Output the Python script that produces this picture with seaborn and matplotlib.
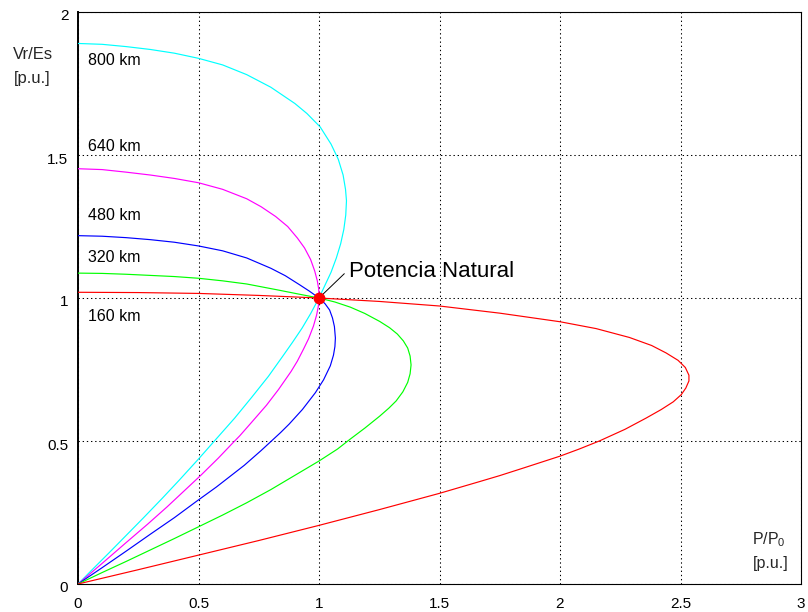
import matplotlib
matplotlib.use("Agg")
import matplotlib.pyplot as plt
import seaborn as sns
import pandas as pd
from matplotlib.transforms import ScaledTranslation

# Receiving-end voltage Vr/Es against transmitted power P/P0 for a lossless
# line feeding a unity power factor load, for five line lengths.
lengths = ["800 km", "640 km", "480 km", "320 km", "160 km"]
line_colors = ["#00ffff", "#ff00ff", "#0000ff", "#00ff00", "#ff0000"]

p_800 = [0.00, 0.10, 0.20, 0.30, 0.40, 0.50, 0.60, 0.70, 0.80, 0.90, 0.95, 1.005, 1.05,
         1.08, 1.10, 1.11, 1.114, 1.111, 1.103, 1.09, 1.072, 1.05, 1.025, 1.00,
         0.965, 0.93, 0.89, 0.85, 0.79, 0.72, 0.65, 0.566, 0.50, 0.42, 0.35, 0.27,
         0.20, 0.13, 0.06, 0.00]
v_800 = [1.890, 1.887, 1.879, 1.869, 1.856, 1.838, 1.815, 1.781, 1.737, 1.680, 1.645,
         1.598, 1.538, 1.485, 1.430, 1.380, 1.340, 1.290, 1.240, 1.190, 1.140, 1.090,
         1.045, 1.000, 0.945, 0.895, 0.845, 0.797, 0.726, 0.652, 0.580, 0.500, 0.437,
         0.363, 0.300, 0.230, 0.170, 0.110, 0.051, 0.000]

p_640 = [0.00, 0.10, 0.20, 0.30, 0.40, 0.50, 0.60, 0.70, 0.76, 0.82, 0.87, 0.91, 0.94,
         0.965, 0.982, 0.993, 0.999, 1.00, 0.997, 0.99, 0.977, 0.957, 0.935, 0.91, 0.884,
         0.832, 0.782, 0.72, 0.671, 0.642, 0.582, 0.512, 0.455, 0.37, 0.29, 0.20, 0.10,
         0.00]
v_640 = [1.452, 1.449, 1.440, 1.430, 1.418, 1.403, 1.380, 1.347, 1.319, 1.285, 1.250,
         1.210, 1.175, 1.135, 1.095, 1.060, 1.030, 1.000, 0.970, 0.940, 0.902, 0.858,
         0.820, 0.779, 0.743, 0.680, 0.625, 0.565, 0.518, 0.493, 0.440, 0.382, 0.337,
         0.270, 0.210, 0.145, 0.072, 0.000]

p_480 = [0.00, 0.10, 0.20, 0.30, 0.40, 0.50, 0.60, 0.70, 0.80, 0.86, 0.92, 0.96, 1.00,
         1.025, 1.044, 1.056, 1.064, 1.068, 1.066, 1.060, 1.047, 1.019, 0.985, 0.931,
         0.876, 0.84, 0.759, 0.69, 0.574, 0.49, 0.40, 0.30, 0.20, 0.10, 0.00]
v_480 = [1.218, 1.216, 1.211, 1.204, 1.195, 1.182, 1.165, 1.140, 1.104, 1.078, 1.046,
         1.024, 1.000, 0.980, 0.958, 0.930, 0.900, 0.860, 0.830, 0.800, 0.763, 0.714,
         0.669, 0.610, 0.559, 0.529, 0.466, 0.415, 0.339, 0.288, 0.232, 0.174, 0.115,
         0.057, 0.000]

p_320 = [0.00, 0.10, 0.20, 0.30, 0.40, 0.50, 0.60, 0.70, 0.83, 0.92, 1.00, 1.066, 1.13,
         1.19, 1.252, 1.293, 1.325, 1.35, 1.368, 1.378, 1.382, 1.378, 1.368, 1.348, 1.32,
         1.29, 1.252, 1.19, 1.127, 1.077, 1.00, 0.90, 0.80, 0.70, 0.60, 0.50, 0.40, 0.30,
         0.20, 0.10, 0.00]
v_320 = [1.087, 1.086, 1.083, 1.079, 1.075, 1.069, 1.060, 1.049, 1.028, 1.013, 1.000,
         0.986, 0.968, 0.946, 0.918, 0.896, 0.874, 0.850, 0.825, 0.797, 0.766, 0.735,
         0.705, 0.672, 0.640, 0.615, 0.587, 0.545, 0.505, 0.472, 0.430, 0.380, 0.330,
         0.284, 0.241, 0.200, 0.159, 0.119, 0.079, 0.040, 0.000]

p_160 = [0.00, 0.25, 0.50, 0.75, 1.00, 1.25, 1.50, 1.75, 2.00, 2.15, 2.288, 2.38, 2.44,
         2.49, 2.52, 2.535, 2.535, 2.522, 2.503, 2.47, 2.42, 2.357, 2.27, 2.163, 2.08,
         2.00, 1.85, 1.75, 1.666, 1.50, 1.25, 1.00, 0.75, 0.50, 0.25, 0.00]
v_160 = [1.020, 1.019, 1.016, 1.009, 1.000, 0.988, 0.972, 0.947, 0.917, 0.893, 0.862,
         0.834, 0.808, 0.782, 0.757, 0.730, 0.710, 0.685, 0.662, 0.637, 0.610, 0.580,
         0.541, 0.500, 0.472, 0.447, 0.406, 0.379, 0.358, 0.317, 0.260, 0.205, 0.152,
         0.101, 0.050, 0.000]

curve_p = [p_800, p_640, p_480, p_320, p_160]
curve_v = [v_800, v_640, v_480, v_320, v_160]

# Where each length is written, on the left of its curve
label_p = [0.041, 0.041, 0.041, 0.041, 0.041]
label_v = [1.829, 1.528, 1.287, 1.140, 0.937]

# Natural-load operating point (P = P0, Vr = Es)
natural_p = 1.0
natural_v = 1.0
natural_text = "Potencia Natural"

x_ticks = [0, 0.5, 1, 1.5, 2, 2.5, 3]
x_tick_labels = ["0", "0.5", "1", "1.5", "2", "2.5", "3"]
y_ticks = [0, 0.5, 1, 1.5, 2]
y_tick_labels = ["0", "0.5", "1", "1.5", "2"]

rows = []
for name, ps, vs in zip(lengths, curve_p, curve_v):
    for i, (p, v) in enumerate(zip(ps, vs)):
        rows.append({"length": name, "order": i, "P": p, "V": v})
df = pd.DataFrame(rows)

sns.set_theme(style="white")
plt.rcParams["font.family"] = ["Liberation Sans", "DejaVu Sans"]
plt.rcParams["mathtext.default"] = "regular"

fig = plt.figure(figsize=(8.08, 6.12), dpi=100)
ax = fig.add_axes([78 / 808, 28 / 612, 723 / 808, 572 / 612])

for name, color in zip(lengths, line_colors):
    sns.lineplot(data=df[df["length"] == name], x="P", y="V", sort=False,
                 estimator=None, color=color, lw=0.85, ax=ax, zorder=3)

ax.set_xlim(0, 3)
ax.set_ylim(0, 2)
ax.set_xticks(x_ticks, x_tick_labels)
ax.set_yticks(y_ticks, y_tick_labels)
ax.set_xlabel("")
ax.set_ylabel("")
ax.grid(True, color="black", linestyle=(0, (1.3, 2.7)), linewidth=0.75)
ax.set_axisbelow(True)
ax.tick_params(axis="both", direction="in", length=5, width=0.8, color="black",
               labelsize=11, labelcolor="black")
ax.tick_params(axis="x", pad=9)
ax.tick_params(axis="y", pad=7)
for lab in ax.get_yticklabels():
    lab.set_transform(lab.get_transform() + ScaledTranslation(0, -3 / 100, fig.dpi_scale_trans))
for side, sp in ax.spines.items():
    sp.set_color("black")
    sp.set_linewidth(0.8)
ax.spines["left"].set_linewidth(1.4)

for name, lp, lv in zip(lengths, label_p, label_v):
    ax.text(lp, lv, name, fontsize=11.5, color="black", ha="left", va="center")

# Natural power point with its leader line and label
ax.plot([natural_p, natural_p + 0.105], [natural_v, natural_v + 0.085],
        color="black", lw=0.7, zorder=4)
ax.plot([natural_p], [natural_v], marker="o", ms=7.5, color="red",
        mec="red", zorder=5, ls="none")
ax.text(natural_p + 0.124, natural_v + 0.0745, natural_text, fontsize=16,
        color="black", ha="left", va="baseline")

# Axis captions written inside the figure margins
ax.text(-0.269, 1.853, "Vr/Es", fontsize=12, ha="left", va="center", clip_on=False)
ax.text(-0.265, 1.769, "[p.u.]", fontsize=12, ha="left", va="center", clip_on=False)
ax.text(2.797, 0.154, "P/P$_0$", fontsize=11.5, ha="left", va="center")
ax.text(2.800, 0.070, "[p.u.]", fontsize=11.5, ha="left", va="center")

fig.savefig("out.png", dpi=100)
